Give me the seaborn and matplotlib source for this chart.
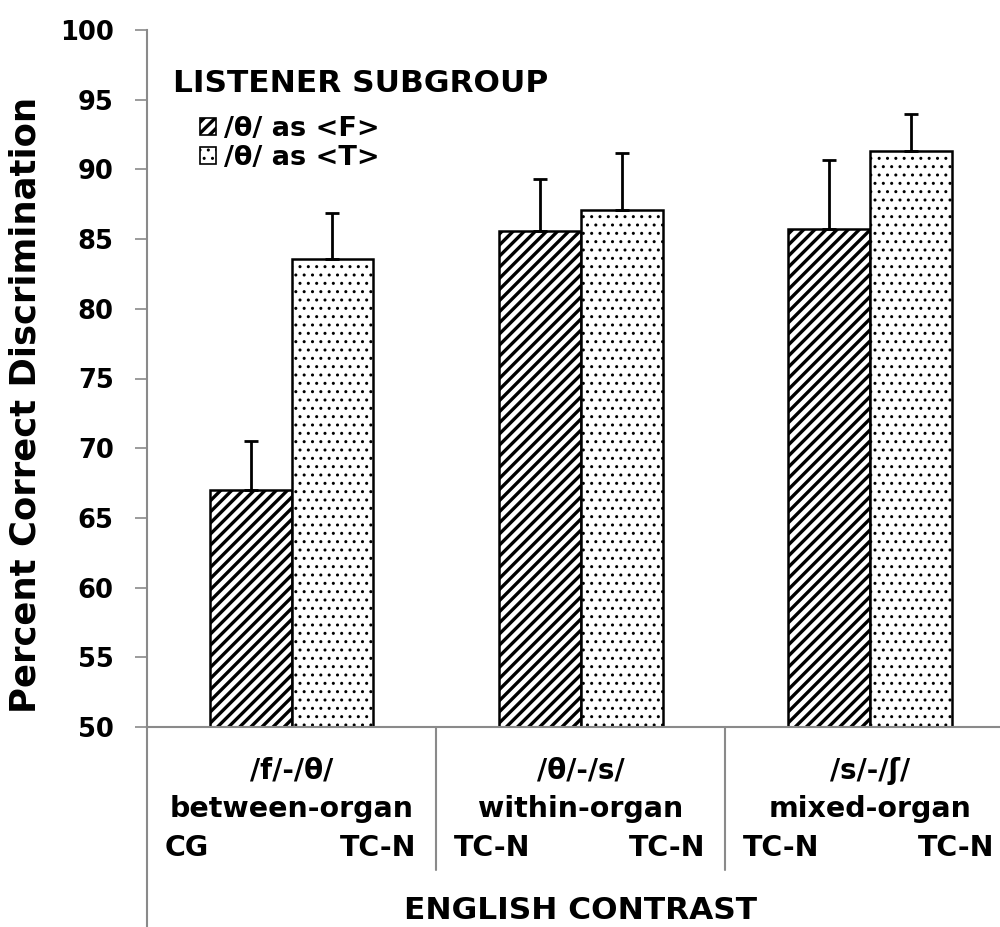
import numpy as np
import pandas as pd
import seaborn as sns
import matplotlib.pyplot as plt
from matplotlib.patches import Patch

# data
contrasts = ["/f/-/θ/", "/θ/-/s/", "/s/-/ʃ/"]
organ_types = ["between-organ", "within-organ", "mixed-organ"]
left_groups = ["CG", "TC-N", "TC-N"]
right_groups = ["TC-N", "TC-N", "TC-N"]
subgroups = ["/θ/ as <F>", "/θ/ as <T>"]
as_f_means = [67.0, 85.6, 85.7]
as_t_means = [83.6, 87.1, 91.3]
as_f_err = [3.5, 3.7, 5.0]
as_t_err = [3.3, 4.1, 2.7]

sns.set_style("white")
plt.rcParams["font.family"] = ["DejaVu Sans"]
plt.rcParams["font.weight"] = "bold"
plt.rcParams["text.color"] = "black"
plt.rcParams["ytick.labelcolor"] = "black"
plt.rcParams["axes.labelcolor"] = "black"
plt.rcParams["hatch.linewidth"] = 2.4

gray = "#8a8a8a"
hatches = ["///", ".."]
hatch_widths = [2.4, 1.0]

df = pd.DataFrame({
    "contrast": contrasts * 2,
    "subgroup": [subgroups[0]] * 3 + [subgroups[1]] * 3,
    "mean": as_f_means + as_t_means,
})
errs = [as_f_err, as_t_err]

fig = plt.figure(figsize=(10, 9.27), dpi=100)
ax = fig.add_axes([0.147, 1 - 727 / 927, 0.853, 697 / 927])

sns.barplot(data=df, x="contrast", y="mean", hue="subgroup",
            order=contrasts, hue_order=subgroups,
            palette=["white", "white"], edgecolor="black", linewidth=1.8,
            width=0.566, errorbar=None, legend=False, ax=ax)

for cont, hatch, hw, err in zip(ax.containers, hatches, hatch_widths, errs):
    xs, ys = [], []
    for bar in cont:
        bar.set_hatch(hatch)
        if hasattr(bar, "set_hatch_linewidth"):
            bar.set_hatch_linewidth(hw)
        xs.append(bar.get_x() + bar.get_width() / 2)
        ys.append(bar.get_height())
    ax.errorbar(xs, ys, yerr=[np.zeros(len(err)), err], fmt="none",
                ecolor="black", elinewidth=2, capsize=5, capthick=2,
                zorder=3)

ax.set_xlim(-0.5, 2.45)
ax.set_ylim(50, 100)
ax.set_yticks(np.arange(50, 101, 5))
ax.tick_params(axis="y", direction="out", length=9, width=1.2, color=gray,
               labelsize=18.5, pad=15, left=True, labelcolor="black")
ax.set_xticks([])
ax.set_xlabel("")
for s in ["top", "right"]:
    ax.spines[s].set_visible(False)
for s in ["left", "bottom"]:
    ax.spines[s].set_color(gray)
    ax.spines[s].set_linewidth(1.5)

ax.set_ylabel("Percent Correct Discrimination", fontsize=25.5,
              fontweight="bold", color="black")
ax.yaxis.set_label_coords(-0.123, 0.462)

# lower label area
tr = ax.get_xaxis_transform()
ax.plot([-0.5, -0.5], [0, -0.29], transform=tr, color=gray, lw=1.5,
        clip_on=False)
for i in range(len(contrasts) - 1):
    ax.plot([i + 0.5, i + 0.5], [0, -0.205], transform=tr, color=gray,
            lw=1.5, clip_on=False)
for i, (c, o, l, r) in enumerate(zip(contrasts, organ_types,
                                     left_groups, right_groups)):
    ax.text(i, -0.063, c, transform=tr, ha="center", va="center",
            fontsize=20, fontweight="bold")
    ax.text(i, -0.118, o, transform=tr, ha="center", va="center",
            fontsize=20.5, fontweight="bold")
    ax.text(i - 0.44, -0.174, l, transform=tr, ha="left", va="center",
            fontsize=20.5, fontweight="bold")
    ax.text(i + 0.43, -0.174, r, transform=tr, ha="right", va="center",
            fontsize=20.5, fontweight="bold")
ax.text(1, -0.263, "ENGLISH CONTRAST", transform=tr, ha="center",
        va="center", fontsize=22.5, fontweight="bold")

# legend
fig.text(0.173, 1 - 83 / 927, "LISTENER SUBGROUP", ha="left", va="center",
         fontsize=22.5, fontweight="bold")
handles = []
for h, hw in zip(hatches, hatch_widths):
    p = Patch(facecolor="white", edgecolor="black", hatch=h, lw=1.2)
    if hasattr(p, "set_hatch_linewidth"):
        p.set_hatch_linewidth(hw)
    handles.append(p)
leg = fig.legend(handles, subgroups, loc="upper left",
                 bbox_to_anchor=(0.200, 1 - 116 / 927), frameon=False,
                 borderpad=0, borderaxespad=0, handlelength=0.6,
                 handleheight=0.6, handletextpad=0.3, labelspacing=0.1,
                 prop={"size": 19.5, "weight": "bold"})
for p, hw in zip(leg.get_patches(), hatch_widths):
    if hasattr(p, "set_hatch_linewidth"):
        p.set_hatch_linewidth(hw)

fig.savefig("out.png", dpi=100)
